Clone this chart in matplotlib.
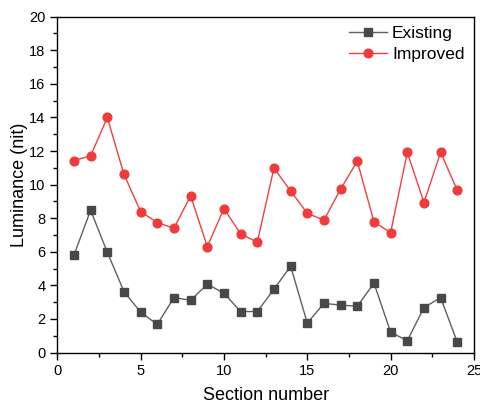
import numpy as np
import matplotlib
matplotlib.use('Agg')
import matplotlib.pyplot as plt
from matplotlib.ticker import MultipleLocator

plt.rcParams['font.family'] = ['Liberation Sans', 'DejaVu Sans']

# data
section = list(range(1, 25))
existing = [5.8, 8.47, 5.97, 3.63, 2.40, 1.67, 3.27, 3.11, 4.07, 3.53, 2.44, 2.44,
            3.77, 5.14, 1.75, 2.93, 2.82, 2.76, 4.13, 1.21, 0.70, 2.68, 3.27, 0.61]
improved = [11.43, 11.71, 14.0, 10.61, 8.39, 7.74, 7.40, 9.33, 6.31, 8.57, 7.06, 6.57,
            10.99, 9.62, 8.29, 7.88, 9.74, 11.39, 7.78, 7.14, 11.92, 8.93, 11.92, 9.66]

fig = plt.figure(figsize=(4.81, 4.03), dpi=100)
ax = fig.add_axes([0.1191, 0.1253, 0.8663, 0.8333])

ax.plot(section, existing, color='#606060', lw=1.0, marker='s', ms=5.8,
        mfc='#484848', mec='#484848', label='Existing')
ax.plot(section, improved, color='#f04040', lw=1.0, marker='o', ms=6.3,
        mfc='#ef3b3b', mec='#ef3b3b', label='Improved')

ax.set_xlim(0, 25)
ax.set_ylim(0, 20)
ax.xaxis.set_major_locator(MultipleLocator(5))
ax.xaxis.set_minor_locator(MultipleLocator(2.5))
ax.yaxis.set_major_locator(MultipleLocator(2))
ax.yaxis.set_minor_locator(MultipleLocator(1))
ax.tick_params(which='major', direction='out', length=5, width=1, labelsize=10.5, pad=3.5)
ax.tick_params(which='minor', direction='out', length=3, width=1)
for s in ax.spines.values():
    s.set_linewidth(1.0)

ax.set_xlabel('Section number', fontsize=13, labelpad=6)
ax.set_ylabel('Luminance (nit)', fontsize=13, labelpad=0.5)

ax.legend(loc='upper right', frameon=False, fontsize=12.5, handlelength=2.2,
          borderaxespad=0.15, labelspacing=0.3, handletextpad=0.3)

fig.savefig('out.png', dpi=100)
